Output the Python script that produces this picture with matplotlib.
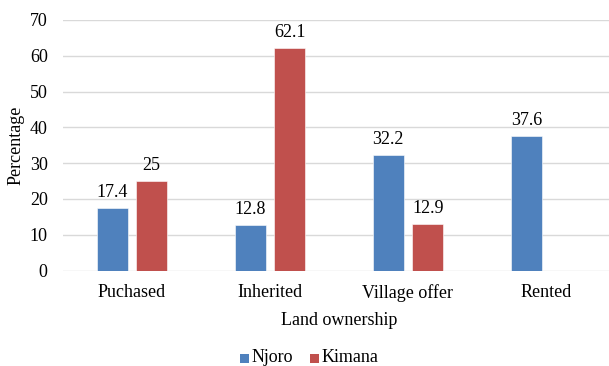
import matplotlib
matplotlib.use("Agg")
import matplotlib.pyplot as plt
import numpy as np
from matplotlib.patches import Rectangle

categories = ["Puchased", "Inherited", "Village offer", "Rented"]
njoro = [17.4, 12.8, 32.2, 37.6]
kimana = [25, 62.1, 12.9, None]
series_names = ["Njoro", "Kimana"]
yticks = [0, 10, 20, 30, 40, 50, 60, 70]

FAM = ['Liberation Serif', 'DejaVu Serif']
plt.rcParams['font.family'] = FAM
FS = 13
blue = "#4F81BD"
red = "#C0504D"
colors = [blue, red]

fig = plt.figure(figsize=(6.09, 3.66), dpi=100)
ax = fig.add_axes([63/609, 95.5/366, 552/609, 250.5/366])

x = np.arange(len(categories))
w = 0.225
off = 0.143
for i, (vals, col, lab) in enumerate([(njoro, blue, series_names[0]), (kimana, red, series_names[1])]):
    xs = [xi + (-off if i == 0 else off) for xi, v in zip(x, vals) if v is not None]
    vs = [v for v in vals if v is not None]
    bars = ax.bar(xs, vs, width=w, color=col, edgecolor="#FFFFFF", linewidth=0.4, zorder=3, label=lab)
    for b, v in zip(bars, vs):
        txt = f"{v:g}"
        ax.text(b.get_x() + b.get_width()/2, v + 2.0, txt, ha="center", va="bottom",
                fontsize=FS, family=FAM, color="#000000")

ax.set_xlim(-0.5, len(categories) - 0.5)
ax.set_ylim(0, 70)
ax.set_yticks(yticks)
ax.set_xticks(x)
ax.set_xticklabels(categories, family=FAM)
for t in ax.get_yticklabels():
    t.set_family(FAM)
ax.tick_params(axis="both", length=0, labelsize=FS, colors="#000000")
ax.tick_params(axis="y", pad=11)
ax.tick_params(axis="x", pad=10)
for s in ax.spines.values():
    s.set_visible(False)
ax.yaxis.grid(True, color="#D9D9D9", linewidth=1.0, zorder=0)
ax.set_axisbelow(True)
ax.set_ylabel("Percentage", fontsize=FS, family=FAM)
ax.yaxis.set_label_coords(-0.07, 0.5)
ax.set_xlabel("Land ownership", fontsize=FS, family=FAM, labelpad=7)

# legend built by hand (square markers + serif text)
leg_x = [240, 310]
leg_y = 358
for name, col, lx in zip(series_names, colors, leg_x):
    fig.patches.append(Rectangle((lx/609, (366 - leg_y - 4.5)/366), 9/609, 9/366,
                                 transform=fig.transFigure, facecolor=col, edgecolor="none"))
    fig.text((lx + 12)/609, (366 - leg_y)/366, name, ha="left", va="center",
             fontsize=FS, family=FAM, color="#000000")

fig.savefig("out.png", dpi=100)
